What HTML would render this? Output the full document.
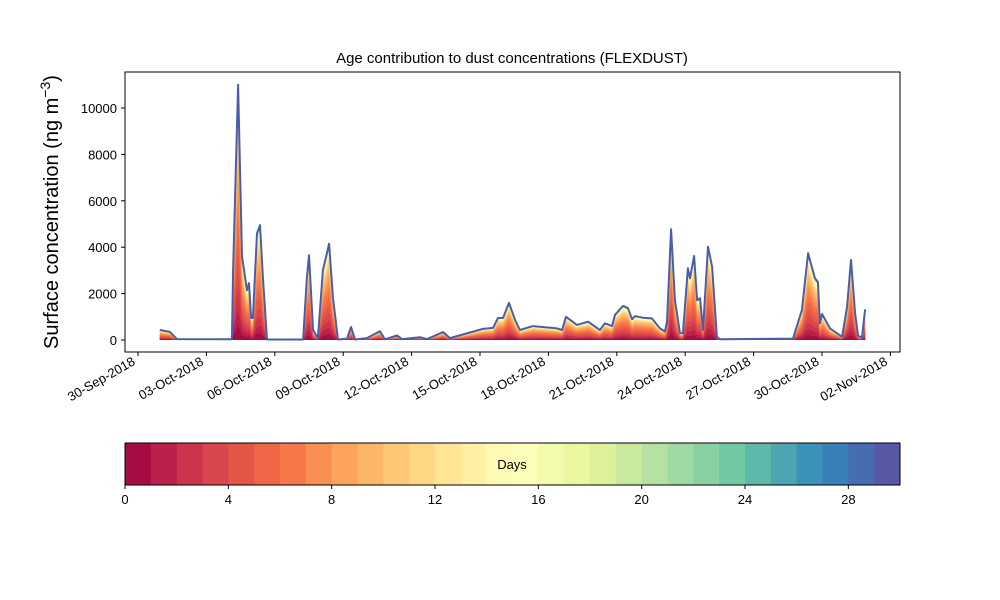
<!DOCTYPE html>
<html><head><meta charset="utf-8"><style>
body{margin:0;background:#fff;}
svg{font-family:"Liberation Sans","DejaVu Sans",sans-serif;display:block}
</style></head><body>
<svg id="chart" width="1000" height="600" viewBox="0 0 1000 600" xmlns="http://www.w3.org/2000/svg">
<rect x="0" y="0" width="1000" height="600" fill="#fff"/>
<g id="plot"></g>
<rect x="125" y="72" width="775" height="280" fill="none" stroke="#000" stroke-width="1"/>
<text x="512" y="63" text-anchor="middle" font-size="15">Age contribution to dust concentrations (FLEXDUST)</text>
<text transform="translate(58,212) rotate(-90)" text-anchor="middle" font-size="20">Surface concentration (ng m<tspan baseline-shift="super" font-size="14">−3</tspan>)</text>
<g id="yaxis"></g>
<g id="xaxis"></g>
<g id="cbar"></g>
</svg>
<script>
const days=[0.96,1.40,1.71,4.12,4.17,4.39,4.56,4.78,4.87,4.96,5.04,5.22,5.35,5.48,5.66,7.24,7.41,7.50,7.68,7.89,8.11,8.38,8.55,8.77,9.17,9.34,9.52,10.04,10.61,10.83,11.36,11.58,12.37,12.68,13.38,13.68,15.13,15.57,15.79,16.01,16.27,16.54,16.75,17.32,18.38,18.60,18.77,19.25,19.74,20.26,20.48,20.79,20.92,21.27,21.49,21.67,21.80,22.15,22.54,22.89,23.11,23.20,23.38,23.55,23.77,23.90,24.12,24.21,24.39,24.52,24.65,24.78,25.00,25.18,25.39,25.53,28.73,29.12,29.39,29.69,29.82,29.91,30.00,30.35,30.88,31.10,31.27,31.45,31.58,31.75,31.89];
const totals=[430,350,40,30,3000,11000,3600,2150,2450,950,950,4600,4950,2700,20,20,2700,3650,430,80,3000,4150,1850,20,60,560,20,80,380,30,200,40,120,40,340,80,480,520,950,950,1600,860,430,600,500,430,1000,650,790,430,720,600,1080,1470,1370,890,1030,960,930,500,360,800,4770,1720,290,290,3090,2660,3620,1720,1800,430,4020,3160,140,30,60,1290,3740,2660,2500,720,1120,500,140,1440,3450,1150,200,80,1320];
const ageShare=[0.06,0.07,0.08,0.08,0.09,0.09,0.09,0.08,0.07,0.06,0.05,0.04,0.03,0.03,0.02,0.02,0.015,0.01,0.008,0.006,0.005,0.004,0.004,0.003,0.003,0.003,0.003,0.003,0.003,0.004];
const yTicks=[0,2000,4000,6000,8000,10000];
const xTickLabels=["30-Sep-2018","03-Oct-2018","06-Oct-2018","09-Oct-2018","12-Oct-2018","15-Oct-2018","18-Oct-2018","21-Oct-2018","24-Oct-2018","27-Oct-2018","30-Oct-2018","02-Nov-2018"];
const xTickDays=[0,3,6,9,12,15,18,21,24,27,30,33];
const cbTicks=[0,4,8,12,16,20,24,28];

const NS="http://www.w3.org/2000/svg";
function mk(tag,attrs,parent){const e=document.createElementNS(NS,tag);for(const k in attrs)e.setAttribute(k,attrs[k]);parent.appendChild(e);return e;}
const X=d=>138+d*22.8;
const Y=v=>340-v*0.0232;
const spec=["#9e0142","#d53e4f","#f46d43","#fdae61","#fee08b","#ffffbf","#e6f598","#abdda4","#66c2a5","#3288bd","#5e4fa2"];
function hx(c){return [1,3,5].map(i=>parseInt(c.substr(i,2),16));}
function cmap(t){const p=t*10,i=Math.min(9,Math.floor(p)),f=p-i;const a=hx(spec[i]),b=hx(spec[i+1]);return "rgb("+a.map((v,k)=>Math.round(v+(b[k]-v)*f)).join(",")+")";}
const sumShare=ageShare.reduce((a,b)=>a+b,0);
const plot=document.getElementById('plot');
let cum=[];let c=0;for(let i=0;i<ageShare.length;i++){c+=ageShare[i]/sumShare;cum.push(c);}
for(let i=ageShare.length-1;i>=0;i--){
  let pts=days.map((d,j)=>X(d).toFixed(1)+","+Y(totals[j]*cum[i]).toFixed(1));
  const p=mk('polygon',{points:X(days[0])+","+Y(0)+" "+pts.join(" ")+" "+X(days[days.length-1])+","+Y(0),fill:cmap((i+0.5)/30)},plot);
  
  
}
const totalLine=mk('polyline',{points:days.map((d,j)=>X(d).toFixed(1)+","+Y(totals[j]).toFixed(1)).join(" "),fill:"none",stroke:"#4a5ea8","stroke-width":2,"stroke-linejoin":"round"},plot);


const ya=document.getElementById('yaxis');
yTicks.forEach(v=>{
  const l=mk('line',{x1:121,x2:125,y1:Y(v),y2:Y(v),stroke:"#000"},ya);
  
  
  const t=mk('text',{x:117,y:Y(v)+5,"text-anchor":"end","font-size":13},ya);t.textContent=v;
  
  
});
const xa=document.getElementById('xaxis');
xTickDays.forEach((d,i)=>{
  const x=X(d);
  const l=mk('line',{x1:x,x2:x,y1:352,y2:356,stroke:"#000"},xa);
  
  
  const t=mk('text',{transform:`translate(${x-2},${364}) rotate(-30)`,"text-anchor":"end","font-size":13},xa);t.textContent=xTickLabels[i];
  
  
});
const cb=document.getElementById('cbar');
const cbX=v=>125+v*775/30;
for(let i=0;i<30;i++){
  const r=mk('rect',{x:cbX(i),y:443,width:775/30+0.5,height:42,fill:cmap((i+0.5)/30)},cb);
  
  
}
const fr=mk('rect',{x:125,y:443,width:775,height:42,fill:"none",stroke:"#000"},cb);


const dl=mk('text',{x:512,y:469,"text-anchor":"middle","font-size":13},cb);dl.textContent="Days";


cbTicks.forEach(v=>{
  const l=mk('line',{x1:cbX(v),x2:cbX(v),y1:485,y2:489,stroke:"#000"},cb);
  
  
  const t=mk('text',{x:cbX(v),y:504,"text-anchor":"middle","font-size":13},cb);t.textContent=v;
  
  
});
</script>
</body></html>
